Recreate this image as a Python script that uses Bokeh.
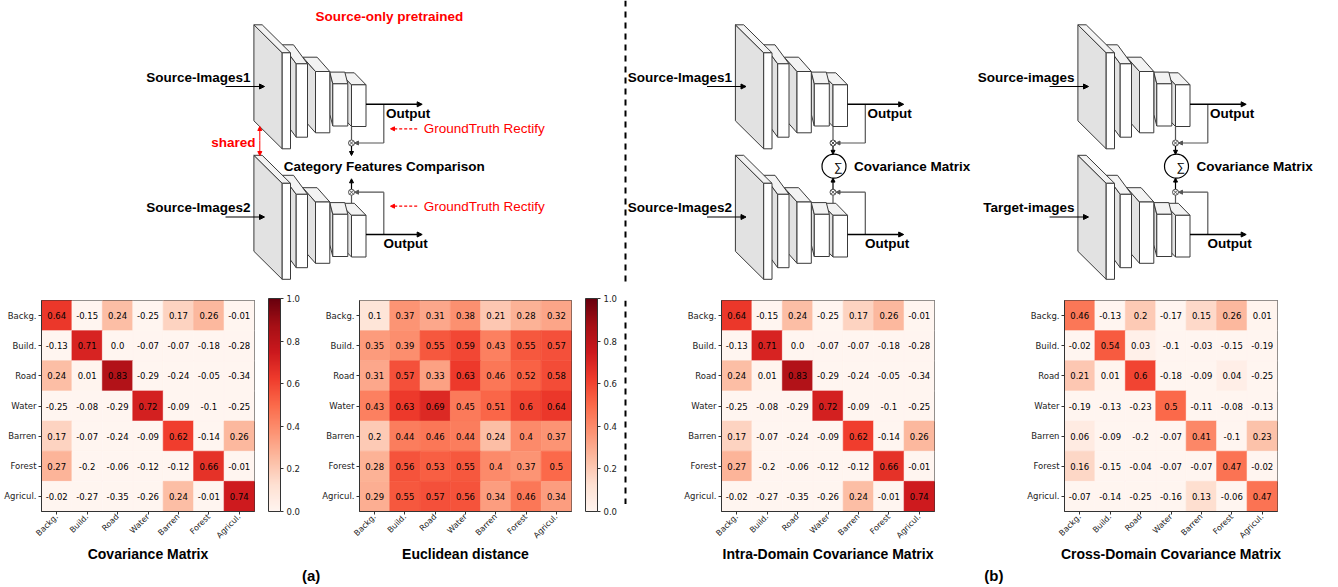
import math
from bokeh.plotting import figure
from bokeh.models import (Range1d, FactorRange, LinearColorMapper, ColorBar, FixedTicker,
                          PrintfTickFormatter, Arrow, NormalHead, ColumnDataSource)
from bokeh.layouts import column, row
from bokeh.core.properties import value
from bokeh.transform import transform
from bokeh.palettes import Reds256
from bokeh.embed import file_html
from bokeh.resources import INLINE

# ---------------- data ----------------
categories = ["Backg.", "Build.", "Road", "Water", "Barren", "Forest", "Agricul."]

covariance = [
    [0.64, -0.15, 0.24, -0.25, 0.17, 0.26, -0.01],
    [-0.13, 0.71, 0.0, -0.07, -0.07, -0.18, -0.28],
    [0.24, 0.01, 0.83, -0.29, -0.24, -0.05, -0.34],
    [-0.25, -0.08, -0.29, 0.72, -0.09, -0.1, -0.25],
    [0.17, -0.07, -0.24, -0.09, 0.62, -0.14, 0.26],
    [0.27, -0.2, -0.06, -0.12, -0.12, 0.66, -0.01],
    [-0.02, -0.27, -0.35, -0.26, 0.24, -0.01, 0.74],
]
euclidean = [
    [0.1, 0.37, 0.31, 0.38, 0.21, 0.28, 0.32],
    [0.35, 0.39, 0.55, 0.59, 0.43, 0.55, 0.57],
    [0.31, 0.57, 0.33, 0.63, 0.46, 0.52, 0.58],
    [0.43, 0.63, 0.69, 0.45, 0.51, 0.6, 0.64],
    [0.2, 0.44, 0.46, 0.44, 0.24, 0.4, 0.37],
    [0.28, 0.56, 0.53, 0.55, 0.4, 0.37, 0.5],
    [0.29, 0.55, 0.57, 0.56, 0.34, 0.46, 0.34],
]
intra_domain = [
    [0.64, -0.15, 0.24, -0.25, 0.17, 0.26, -0.01],
    [-0.13, 0.71, 0.0, -0.07, -0.07, -0.18, -0.28],
    [0.24, 0.01, 0.83, -0.29, -0.24, -0.05, -0.34],
    [-0.25, -0.08, -0.29, 0.72, -0.09, -0.1, -0.25],
    [0.17, -0.07, -0.24, -0.09, 0.62, -0.14, 0.26],
    [0.27, -0.2, -0.06, -0.12, -0.12, 0.66, -0.01],
    [-0.02, -0.27, -0.35, -0.26, 0.24, -0.01, 0.74],
]
cross_domain = [
    [0.46, -0.13, 0.2, -0.17, 0.15, 0.26, 0.01],
    [-0.02, 0.54, 0.03, -0.1, -0.03, -0.15, -0.19],
    [0.21, 0.01, 0.6, -0.18, -0.09, 0.04, -0.25],
    [-0.19, -0.13, -0.23, 0.5, -0.11, -0.08, -0.13],
    [0.06, -0.09, -0.2, -0.07, 0.41, -0.1, 0.23],
    [0.16, -0.15, -0.04, -0.07, -0.07, 0.47, -0.02],
    [-0.07, -0.14, -0.25, -0.16, 0.13, -0.06, 0.47],
]
heatmap_titles = ["Covariance Matrix", "Euclidean distance",
                  "Intra-Domain Covariance Matrix", "Cross-Domain Covariance Matrix"]
colorbar_ticks = [0.0, 0.2, 0.4, 0.6, 0.8, 1.0]
panel_labels = ["(a)", "(b)"]

# ---------------- styles ----------------
SANS = value("Liberation Sans")
MPL = value("DejaVu Sans")
RED = "#ff0000"
EDGE = "#3a3a3a"
TICK_FS = "8.5px"

pal = list(Reds256)
if int(pal[0][1:3], 16) < int(pal[-1][1:3], 16):
    pal = pal[::-1]
mapper = LinearColorMapper(palette=pal, low=0, high=1)

# ---------------- layout sizes ----------------
W = 1338
TOP_H = 284
ROW_TOP = 16
FRAME = 213
ROW_BOTTOM = 52
ROW_H = ROW_TOP + FRAME + ROW_BOTTOM
LAB_Y0 = TOP_H + ROW_H

# ---------------- top diagram ----------------
top = figure(width=W, height=TOP_H, x_range=Range1d(0, W), y_range=Range1d(TOP_H, 0),
             x_axis_location=None, y_axis_location=None, toolbar_location=None,
             output_backend="svg", min_border=0, outline_line_color=None)
top.grid.visible = False

# front x0, x1, y0, y1, depth dx, dy  (network template, pixel geometry)
BLOCKS = [
    (281.7, 290.0, 52.3, 148.3, -28.3, -28.0),
    (295.7, 307.0, 63.3, 136.7, -14.0, -19.0),
    (315.0, 329.3, 71.0, 132.3, -12.7, -14.3),
    (332.3, 347.3, 83.3, 125.5, -3.0, -11.7),
    (351.0, 365.5, 84.3, 126.0, -11.7, -12.0),
]
LOWER = 130.5


def txt(p, x, y, s, size="13.5px", color="black", bold=True, align="left", font=SANS):
    p.text(x=[x], y=[y], text=[s], text_font=font, text_font_size=size, text_color=color,
           text_font_style="bold" if bold else "normal", text_align=align,
           text_baseline="middle")


def arrow(p, x0, y0, x1, y1, color="black", width=1.2, dash="solid", size=5):
    head = dict(size=size, fill_color=color, line_color=color, line_width=1)
    p.add_layout(Arrow(end=NormalHead(**head),
                       x_start=x0, y_start=y0, x_end=x1, y_end=y1,
                       line_color=color, line_width=width, line_dash=dash))


def draw_blocks(p, ox, oy):
    xs, ys, cols = [], [], []
    for (x0, x1, y0, y1, dx, dy) in reversed(BLOCKS):
        x0 += ox; x1 += ox; y0 += oy; y1 += oy
        xs.append([x0 + dx, x0, x0, x0 + dx]); ys.append([y0 + dy, y0, y1, y1 + dy]); cols.append("#e2e2e2")
        xs.append([x0 + dx, x1 + dx, x1, x0]); ys.append([y0 + dy, y0 + dy, y0, y0]); cols.append("#f3f3f3")
        xs.append([x0, x1, x1, x0]); ys.append([y0, y0, y1, y1]); cols.append("white")
    p.patches(xs, ys, fill_color=cols, line_color=EDGE, line_width=1)


def draw_network(p, ox, label1, label2, sigma):
    fx = 351.0 + ox   # feature tap x
    bx = 383.3 + ox   # feedback x
    oy_u, oy_l = 103.8, 234.0
    cu, cl = 142.5, 191.7
    p.segment(x0=[fx, fx, bx, bx], y0=[126.0, 202.8, oy_u, oy_l],
              x1=[fx, fx, bx, bx], y1=[cu, cl, cu, cl], line_color="#555555", line_width=1.2)
    draw_blocks(p, ox, 0)
    draw_blocks(p, ox, LOWER)
    arrow(p, bx, cu, fx + 3, cu, color="#555555", width=1.2, size=4)
    arrow(p, bx, cl, fx + 3, cl, color="#555555", width=1.2, size=4)
    p.scatter([fx, fx], [cu, cl], marker="circle_x", size=6, fill_color="white",
              line_color="#555555", line_width=1)
    arrow(p, 365.5 + ox, oy_u, 421.7 + ox, oy_u, width=1.5, size=5)
    arrow(p, 365.5 + ox, oy_l, 421.7 + ox, oy_l, width=1.5, size=5)
    txt(p, 385.5 + ox, 112.7, "Output")
    txt(p, 383.0 + ox, 243.0, "Output")
    arrow(p, 225.0 + ox, 86.0, 264.0 + ox, 86.0, width=1.2, size=5)
    arrow(p, 225.0 + ox, 86.0 + LOWER, 264.0 + ox, 86.0 + LOWER, width=1.2, size=5)
    txt(p, 250.0 + ox, 77.3, label1, align="right")
    txt(p, 250.0 + ox, 207.3, label2, align="right")
    if sigma:
        arrow(p, fx, cu + 3, fx, 153.8, width=1.2, size=4)
        arrow(p, fx, cl - 3, fx, 177.6, width=1.2, size=4)
        p.scatter([fx + 1], [165.7], marker="circle", size=24, fill_color="white",
                  line_color="black", line_width=1.2)
        txt(p, fx + 1, 166.0, "\u2211", size="12px", bold=False)
        txt(p, fx + 21, 165.7, "Covariance Matrix")
    else:
        arrow(p, fx, cu + 3, fx, 155.0, width=1.2, size=4)
        arrow(p, fx, cl - 3, fx, 178.3, width=1.2, size=4)


# network (a)
draw_network(top, 0.0, "Source-Images1", "Source-Images2", sigma=False)
txt(top, 315.0, 15.7, "Source-only pretrained", color=RED)
txt(top, 255.0, 142.3, "shared", color=RED, align="right")
arrow(top, 259.3, 140.0, 259.3, 126.0, color=RED, width=1, size=4)
arrow(top, 259.3, 140.0, 259.3, 155.0, color=RED, width=1, size=4)
txt(top, 283.3, 165.7, "Category Features Comparison")
for gy in (128.3, 205.7):
    arrow(top, 416.7, gy, 390.0, gy, color=RED, width=1.2, dash="3 2", size=4)
    txt(top, 423.3, gy, "GroundTruth Rectify", color=RED, bold=False)

# networks (b)
draw_network(top, 481.5, "Source-Images1", "Source-Images2", sigma=True)
draw_network(top, 824.0, "Source-images", "Target-images", sigma=True)

# separator
top.segment(x0=[625], y0=[0], x1=[625], y1=[TOP_H], line_color="black", line_width=2,
            line_dash="6 5")

# ---------------- heatmaps ----------------


def heatmap(mat, title, width, left, with_bar):
    xs, ys, vals, labs = [], [], [], []
    for i, rname in enumerate(categories):
        for j, cname in enumerate(categories):
            xs.append(cname); ys.append(rname)
            vals.append(mat[i][j]); labs.append(str(mat[i][j]))
    src = ColumnDataSource(dict(x=xs, y=ys, v=vals, t=labs))
    p = figure(width=width, height=ROW_H, x_range=FactorRange(factors=categories),
               y_range=FactorRange(factors=categories[::-1]),
               toolbar_location=None, output_backend="svg",
               min_border_left=left, min_border_right=width - left - FRAME,
               min_border_top=ROW_TOP, min_border_bottom=ROW_BOTTOM)
    p.rect("x", "y", 1, 1, source=src, fill_color=transform("v", mapper),
           line_color=transform("v", mapper), line_width=0.6)
    p.text("x", "y", text="t", source=src, text_align="center", text_baseline="middle",
           text_font_size=TICK_FS, text_font=MPL, text_color="black")
    p.grid.visible = False
    p.outline_line_color = "#333333"
    for ax in (p.xaxis, p.yaxis):
        ax.major_label_text_font = "DejaVu Sans"
        ax.major_label_text_font_size = TICK_FS
        ax.major_label_text_color = "#222222"
        ax.major_tick_out = 3
        ax.major_tick_in = 0
        ax.major_tick_line_color = "#333333"
        ax.axis_line_color = "#333333"
        ax.major_label_standoff = 2
    p.xaxis.major_label_text_font_size = "8px"
    p.xaxis.major_label_standoff = 1
    p.xaxis.major_label_orientation = math.pi / 4
    p.xaxis.axis_label = title
    p.xaxis.axis_label_text_font = "Liberation Sans"
    p.xaxis.axis_label_text_font_style = "bold"
    p.xaxis.axis_label_text_font_size = "14px"
    p.xaxis.axis_label_text_color = "black"
    p.xaxis.axis_label_standoff = 0
    if with_bar:
        cb = ColorBar(color_mapper=mapper, ticker=FixedTicker(ticks=colorbar_ticks),
                      formatter=PrintfTickFormatter(format="%.1f"),
                      width=12, height=FRAME, padding=0, margin=0, location=(14, 0),
                      bar_line_color="#333333", major_tick_out=3, major_tick_in=0,
                      major_tick_line_color="#333333", label_standoff=3,
                      major_label_text_font_size=TICK_FS, major_label_text_font="DejaVu Sans",
                      major_label_text_color="#222222",
                      background_fill_color=None, border_line_color=None)
        p.add_layout(cb, "right")
    return p


h1 = heatmap(covariance, heatmap_titles[0], 318, 41, True)
h2 = heatmap(euclidean, heatmap_titles[1], 302, 41, True)
h3 = heatmap(intra_domain, heatmap_titles[2], 380, 81, False)
h4 = heatmap(cross_domain, heatmap_titles[3], 318, 44, False)

sep = figure(width=20, height=ROW_H, x_range=Range1d(620, 640),
             y_range=Range1d(TOP_H + ROW_H, TOP_H),
             x_axis_location=None, y_axis_location=None, toolbar_location=None,
             output_backend="svg", min_border=0, outline_line_color=None)
sep.grid.visible = False
sep.segment(x0=[625], y0=[TOP_H], x1=[625], y1=[555], line_color="black", line_width=2,
            line_dash="6 5")

# ---------------- panel labels ----------------
lab = figure(width=W, height=587 - LAB_Y0, x_range=Range1d(0, W), y_range=Range1d(587, LAB_Y0),
             x_axis_location=None, y_axis_location=None, toolbar_location=None,
             output_backend="svg", min_border=0, outline_line_color=None)
lab.grid.visible = False
lab.text(x=[310.7, 993.3], y=[575.0, 575.0], text=panel_labels, text_font=SANS,
         text_font_size="15px", text_font_style="bold", text_align="center",
         text_baseline="middle", text_color="black")

layout = column(top, row(h1, h2, sep, h3, h4), lab)
open("out.html", "w").write(file_html(layout, INLINE))
